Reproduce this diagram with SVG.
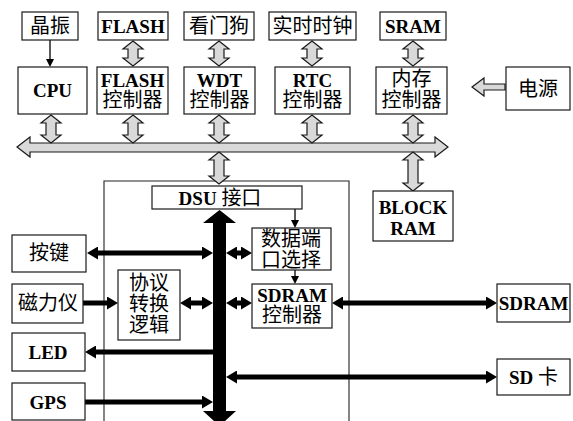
<svg xmlns="http://www.w3.org/2000/svg" width="573" height="421" viewBox="0 0 573 421">
<style>
.box{fill:#fff;stroke:#1a1a1a;stroke-width:1.2}
.hol{fill:#d9d9d9;stroke:#1a1a1a;stroke-width:1.2;stroke-linejoin:miter}
.thk{stroke:#000;stroke-width:5;fill:none}
.thn{stroke:#000;stroke-width:1.3;fill:none}
.cont{fill:none;stroke:#222;stroke-width:1.1}
text{font-family:"Liberation Serif","Noto Sans CJK SC",serif;fill:#000;text-anchor:middle;dominant-baseline:central}
.cn{font-size:20px}
.en{font-size:19px;font-weight:bold}
</style>
<defs>
<marker id="bh" markerUnits="userSpaceOnUse" markerWidth="11" markerHeight="13" refX="0" refY="6.5" orient="auto-start-reverse" viewBox="0 0 11 13">
<path d="M0,0 L11,6.5 L0,13 z" fill="#000"/>
</marker>
<marker id="th" markerUnits="userSpaceOnUse" markerWidth="8" markerHeight="8" refX="0" refY="4" orient="auto" viewBox="0 0 8 8">
<path d="M0,0 L8,4 L0,8 z" fill="#000"/>
</marker>
</defs>

<g id="container"><path class="cont" d="M104,425 V181 H349 V425"/></g>

<g id="connectors">
<polygon class="hol" points="17,147 30,137 30,143 435,143 435,137 448,147 435,157 435,152 30,152 30,157"/>
<polygon class="hol" points="133,41 143,49 138,49 138,58 143,58 133,66 123,58 128,58 128,49 123,49"/>
<polygon class="hol" points="219,41 229,49 224,49 224,58 229,58 219,66 209,58 214,58 214,49 209,49"/>
<polygon class="hol" points="312,41 322,49 317,49 317,58 322,58 312,66 302,58 307,58 307,49 302,49"/>
<polygon class="hol" points="413,41 423,49 418,49 418,58 423,58 413,66 403,58 408,58 408,49 403,49"/>
<polygon class="hol" points="51,115 61,123 56,123 56,135 61,135 51,143 41,135 46,135 46,123 41,123"/>
<polygon class="hol" points="133,115 143,123 138,123 138,135 143,135 133,143 123,135 128,135 128,123 123,123"/>
<polygon class="hol" points="219,115 229,123 224,123 224,135 229,135 219,143 209,135 214,135 214,123 209,123"/>
<polygon class="hol" points="312,115 322,123 317,123 317,135 322,135 312,143 302,135 307,135 307,123 302,123"/>
<polygon class="hol" points="413,115 423,123 418,123 418,135 423,135 413,143 403,135 408,135 408,123 403,123"/>
<polygon class="hol" points="219,152 229,160 224,160 224,176 229,176 219,184 209,176 214,176 214,160 209,160"/>
<polygon class="hol" points="413,152 423,160 418,160 418,183 423,183 413,191 403,183 408,183 408,160 403,160"/>
<polygon class="hol" points="472,87 484,78 484,84 505,84 505,90 484,90 484,96"/>
<line class="thn" x1="50" y1="40" x2="50" y2="59" marker-end="url(#th)"/>
<line class="thn" x1="295" y1="209" x2="295" y2="220" marker-end="url(#th)"/>
<line class="thn" x1="295" y1="270" x2="295" y2="276" marker-end="url(#th)"/>
<path d="M213,223 H226 V411 H213 Z M203,223 L219.5,210 L236,223 Z M203,411 L219.5,426 L236,411 Z" fill="#000"/>
<line class="thk" x1="98" y1="253" x2="202" y2="253" marker-start="url(#bh)" marker-end="url(#bh)"/>
<line class="thk" x1="237" y1="253" x2="241" y2="253" marker-start="url(#bh)" marker-end="url(#bh)"/>
<line class="thk" x1="83" y1="303" x2="107" y2="303" marker-end="url(#bh)"/>
<line class="thk" x1="191" y1="303" x2="202" y2="303" marker-start="url(#bh)" marker-end="url(#bh)"/>
<line class="thk" x1="237" y1="303" x2="241" y2="303" marker-start="url(#bh)" marker-end="url(#bh)"/>
<line class="thk" x1="343" y1="303" x2="486" y2="303" marker-start="url(#bh)" marker-end="url(#bh)"/>
<line class="thk" x1="213" y1="352" x2="96" y2="352" marker-end="url(#bh)"/>
<line class="thk" x1="237" y1="377" x2="486" y2="377" marker-start="url(#bh)" marker-end="url(#bh)"/>
<line class="thk" x1="85" y1="402" x2="202" y2="402" marker-end="url(#bh)"/>
</g>

<g id="crystal"><rect class="box" x="22" y="12" width="56" height="28"/><text class="cn" x="50" y="26">晶振</text></g>
<g id="flash"><rect class="box" x="98" y="12" width="70" height="28"/><text class="en" x="133" y="26">FLASH</text></g>
<g id="watchdog"><rect class="box" x="184" y="12" width="70" height="28"/><text class="cn" x="219" y="26">看门狗</text></g>
<g id="rtc-clock"><rect class="box" x="269" y="12" width="87" height="28"/><text class="cn" x="312.5" y="26">实时时钟</text></g>
<g id="sram"><rect class="box" x="380" y="12" width="66" height="28"/><text class="en" x="413" y="26">SRAM</text></g>

<g id="cpu"><rect class="box" x="18" y="67" width="69" height="47"/><text class="en" x="52.5" y="90">CPU</text></g>
<g id="flash-ctrl"><rect class="box" x="97" y="67" width="71" height="47"/><text class="en" x="132.5" y="80">FLASH</text><text class="cn" x="132.5" y="100">控制器</text></g>
<g id="wdt-ctrl"><rect class="box" x="184" y="67" width="71" height="47"/><text class="en" x="219.5" y="80">WDT</text><text class="cn" x="219.5" y="100">控制器</text></g>
<g id="rtc-ctrl"><rect class="box" x="275" y="67" width="75" height="47"/><text class="en" x="312.5" y="80">RTC</text><text class="cn" x="312.5" y="100">控制器</text></g>
<g id="mem-ctrl"><rect class="box" x="376" y="67" width="71" height="47"/><text class="cn" x="411.5" y="79">内存</text><text class="cn" x="411.5" y="100">控制器</text></g>
<g id="power"><rect class="box" x="506" y="67" width="64" height="43"/><text class="cn" x="538" y="88.5">电源</text></g>

<g id="block-ram"><rect class="box" x="373" y="191" width="80" height="50"/><text class="en" x="413" y="207">BLOCK</text><text class="en" x="413" y="228">RAM</text></g>

<g id="dsu"><rect class="box" x="152" y="186" width="150" height="23"/><text x="220" y="197.5"><tspan class="en">DSU </tspan><tspan class="cn">接口</tspan></text></g>
<g id="port-select"><rect class="box" x="252" y="228" width="79" height="42"/><text class="cn" x="291" y="239">数据端</text><text class="cn" x="291" y="260">口选择</text></g>
<g id="sdram-ctrl"><rect class="box" x="252" y="284" width="80" height="44"/><text class="en" x="292" y="295">SDRAM</text><text class="cn" x="292" y="315">控制器</text></g>
<g id="protocol"><rect class="box" x="118" y="270" width="62" height="70"/><text class="cn" x="149" y="283">协议</text><text class="cn" x="149" y="304">转换</text><text class="cn" x="149" y="325">逻辑</text></g>

<g id="keys"><rect class="box" x="12" y="235" width="74" height="37"/><text class="cn" x="49" y="253">按键</text></g>
<g id="magnetometer"><rect class="box" x="12" y="284" width="71" height="39"/><text class="cn" x="48" y="303">磁力仪</text></g>
<g id="led"><rect class="box" x="12" y="333" width="73" height="38"/><text class="en" x="48" y="352">LED</text></g>
<g id="gps"><rect class="box" x="12" y="383" width="73" height="37"/><text class="en" x="48" y="402">GPS</text></g>

<g id="sdram"><rect class="box" x="497" y="284" width="73" height="38"/><text class="en" x="533.5" y="303">SDRAM</text></g>
<g id="sd-card"><rect class="box" x="497" y="359" width="73" height="36"/><text x="533.5" y="377"><tspan class="en">SD </tspan><tspan class="cn">卡</tspan></text></g>
</svg>
